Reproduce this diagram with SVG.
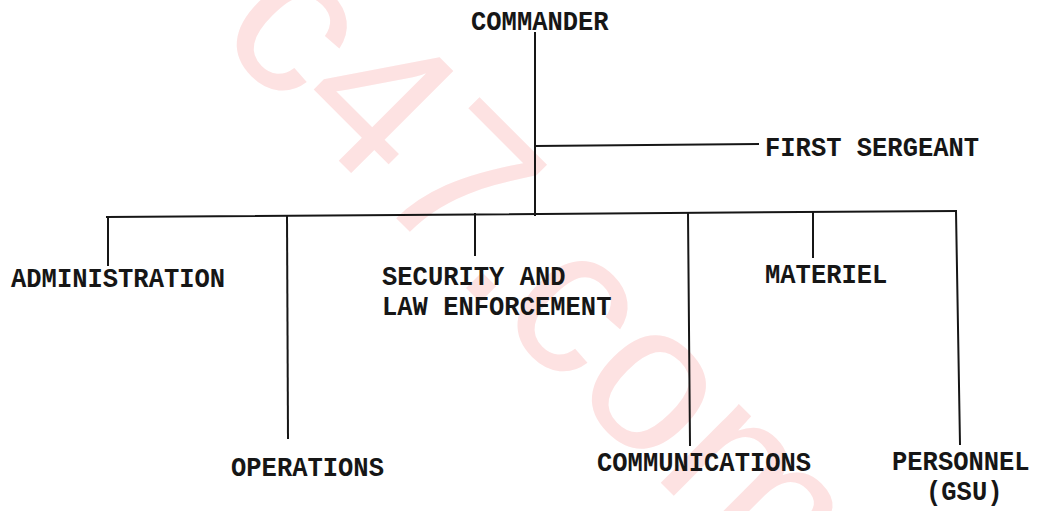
<svg xmlns="http://www.w3.org/2000/svg" width="1038" height="511" viewBox="0 0 1038 511">
<style>
.wm{font-family:"Liberation Sans",Arial,sans-serif;font-size:210px;fill:#fde2e2}
.lbl{font-family:"Liberation Mono","Courier New",monospace;font-size:25.5px;font-weight:bold;fill:#161616}
.ln{stroke:#161616;stroke-width:2;fill:none;stroke-linecap:square}
</style>
<rect width="1038" height="511" fill="#ffffff"/>
<g id="watermark">
<text class="wm" transform="translate(213,35) rotate(45)" x="0" y="0">c47.com</text>
</g>
<g id="connectors">
<path class="ln" d="M535,33 L535,215"/>
<path class="ln" d="M535,146 L758,144"/>
<path class="ln" d="M107,217 L956,211"/>
<path class="ln" d="M108,217 L108,265"/>
<path class="ln" d="M287,216 L288,438"/>
<path class="ln" d="M475,214 L475,255"/>
<path class="ln" d="M688,213 L690,445"/>
<path class="ln" d="M813,212 L813,257"/>
<path class="ln" d="M956,211 L960,444"/>
</g>
<g id="commander"><text class="lbl" transform="translate(471,30) scale(1,1.12)">COMMANDER</text></g>
<g id="first-sergeant"><text class="lbl" transform="translate(765,156) scale(1,1.12)">FIRST SERGEANT</text></g>
<g id="administration"><text class="lbl" transform="translate(11,287) scale(1,1.12)">ADMINISTRATION</text></g>
<g id="security"><text class="lbl" transform="translate(382,285) scale(1,1.12)">SECURITY AND</text><text class="lbl" transform="translate(382,315) scale(1,1.12)">LAW ENFORCEMENT</text></g>
<g id="materiel"><text class="lbl" transform="translate(765,283) scale(1,1.12)">MATERIEL</text></g>
<g id="operations"><text class="lbl" transform="translate(231,476) scale(1,1.12)">OPERATIONS</text></g>
<g id="communications"><text class="lbl" transform="translate(597,471) scale(1,1.12)">COMMUNICATIONS</text></g>
<g id="personnel"><text class="lbl" transform="translate(892,470) scale(1,1.12)">PERSONNEL</text><text class="lbl" transform="translate(926,500) scale(1,1.12)">(GSU)</text></g>
</svg>
